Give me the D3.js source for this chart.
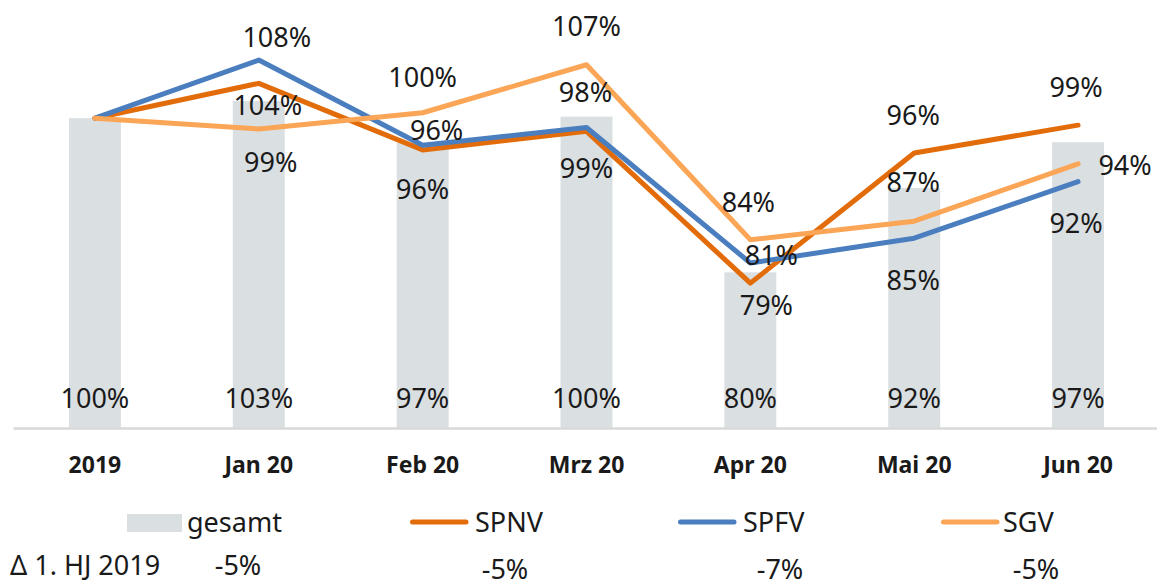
<!DOCTYPE html>
<html>
<head>
<meta charset="utf-8">
<script src="https://cdn.jsdelivr.net/npm/d3@7"></script>
<style>
  html, body { margin: 0; padding: 0; background: #ffffff; }
  svg { display: block; }
  text { font-family: "Noto Sans", "Open Sans", sans-serif; fill: #1a1a1a; }
</style>
</head>
<body>
<svg id="chart" width="1157" height="587"></svg>
<script>
// ---------- data ----------
const categories = ["2019", "Jan 20", "Feb 20", "Mrz 20", "Apr 20", "Mai 20", "Jun 20"];

// gesamt (bars), printed labels alongside
const gesamtValues = [100, 102.2, 96.8, 100.2, 80.1, 91.0, 96.9];
const gesamtLabels = ["100%", "103%", "97%", "100%", "80%", "92%", "97%"];

// lines
const spnvValues = [100, 104.5, 95.9, 98.3, 78.7, 95.5, 99.1];
const spnvLabels = [null, "104%", "96%", "99%", "79%", "96%", "99%"];

const spfvValues = [100, 107.5, 96.5, 98.8, 81.3, 84.5, 91.8];
const spfvLabels = [null, "108%", "96%", "98%", "81%", "85%", "92%"];

const sgvValues = [100, 98.6, 100.7, 106.9, 84.3, 86.7, 94.1];
const sgvLabels = [null, "99%", "100%", "107%", "84%", "87%", "94%"];

const legendNames = ["gesamt", "SPNV", "SPFV", "SGV"];
const deltaTitle = "\u0394 1. HJ 2019";
const deltaLabels = ["-5%", "-5%", "-7%", "-5%"];

const yDomain = [60, 115];

// ---------- layout / style ----------
const W = 1157, H = 587;
const colors = { gesamt: "#dadfe2", SPNV: "#e36c0a", SPFV: "#4a7ebf", SGV: "#fba556" };
const axisY = 428;
// label nudges (dx, dy to baseline) relative to the data point
const spnvOffsets = [null, [9, 32], [0, 49], [0, 47], [16, 32], [-1, -28], [-2, -28]];
const spfvOffsets = [null, [18, -13], [14, -5], [-1, -25], [21, 2], [-1, 52], [-2, 51]];
const sgvOffsets  = [null, [12, 43], [0, -26], [0, -29], [-2, -28], [-1, -29], [47, 11]];
const legendPos = [
  { sx: 127, tx: 187 }, { sx: 410, tx: 475 }, { sx: 678, tx: 743 }, { sx: 941, tx: 1003 }
];
const deltaPos = [{ x: 238, y: 575 }, { x: 505, y: 579 }, { x: 780, y: 579 }, { x: 1036, y: 579 }];

const svg = d3.select("#chart");

const x = d3.scaleBand().domain(categories).range([13, 1160]).padding(0);
const y = d3.scaleLinear().domain(yDomain).range([axisY, 2]);
const barW = x.bandwidth() * 0.317;
const cx = c => x(c) + x.bandwidth() / 2;

// bars
svg.append("g").selectAll("rect")
  .data(categories.map((c, i) => ({ c, v: gesamtValues[i] })))
  .join("rect")
  .attr("x", d => cx(d.c) - barW / 2)
  .attr("width", barW)
  .attr("y", d => y(d.v))
  .attr("height", d => y(yDomain[0]) - y(d.v))
  .attr("fill", colors.gesamt);

// x axis
const axis = svg.append("g")
  .attr("transform", `translate(0,${axisY})`)
  .call(d3.axisBottom(x).tickSize(0).tickSizeOuter(0));
axis.select(".domain").attr("stroke", "#d9d9d9").attr("stroke-width", 2.5);
axis.selectAll(".tick text")
  .attr("y", 45).attr("dy", 0)
  .style("font-family", "'Noto Sans', sans-serif")
  .style("font-size", "23px").style("font-weight", "bold").attr("fill", "#1a1a1a");

// lines
const series = [
  { name: "SPNV", values: spnvValues, labels: spnvLabels, offsets: spnvOffsets },
  { name: "SPFV", values: spfvValues, labels: spfvLabels, offsets: spfvOffsets },
  { name: "SGV",  values: sgvValues,  labels: sgvLabels,  offsets: sgvOffsets }
];
const line = d3.line().x(d => cx(d.c)).y(d => y(d.v));
series.forEach(s => {
  svg.append("path")
    .datum(categories.map((c, i) => ({ c, v: s.values[i] })))
    .attr("d", line)
    .attr("fill", "none")
    .attr("stroke", colors[s.name])
    .attr("stroke-width", 5)
    .attr("stroke-linejoin", "round")
    .attr("stroke-linecap", "round");
});

// bar labels
svg.append("g").selectAll("text")
  .data(categories.map((c, i) => ({ c, t: gesamtLabels[i] })))
  .join("text")
  .attr("x", d => cx(d.c))
  .attr("y", y(yDomain[0]) - 20)
  .attr("text-anchor", "middle")
  .style("font-size", "27px")
  .text(d => d.t);

// line labels
series.forEach(s => {
  svg.append("g").selectAll("text")
    .data(categories.map((c, i) => ({ c, v: s.values[i], t: s.labels[i], o: s.offsets[i] })).filter(d => d.t))
    .join("text")
    .attr("x", d => cx(d.c) + d.o[0])
    .attr("y", d => y(d.v) + d.o[1])
    .attr("text-anchor", "middle")
    .style("font-size", "27px")
    .text(d => d.t);
});

// legend
const lg = svg.append("g");
legendNames.forEach((n, i) => {
  const p = legendPos[i];
  if (n === "gesamt") {
    lg.append("rect").attr("x", p.sx).attr("y", 514).attr("width", 55).attr("height", 18).attr("fill", colors.gesamt);
  } else {
    lg.append("line").attr("x1", p.sx + 2.5).attr("x2", p.sx + 56).attr("y1", 522).attr("y2", 522)
      .attr("stroke", colors[n]).attr("stroke-width", 5).attr("stroke-linecap", "round");
  }
  lg.append("text").attr("x", p.tx).attr("y", 532).style("font-size", "27px").text(n);
});

// delta row
svg.append("text").attr("x", 10).attr("y", 575).style("font-size", "27px").text(deltaTitle);
deltaLabels.forEach((t, i) => {
  svg.append("text").attr("x", deltaPos[i].x).attr("y", deltaPos[i].y)
    .attr("text-anchor", "middle").style("font-size", "27px").text(t);
});
</script>
</body>
</html>
